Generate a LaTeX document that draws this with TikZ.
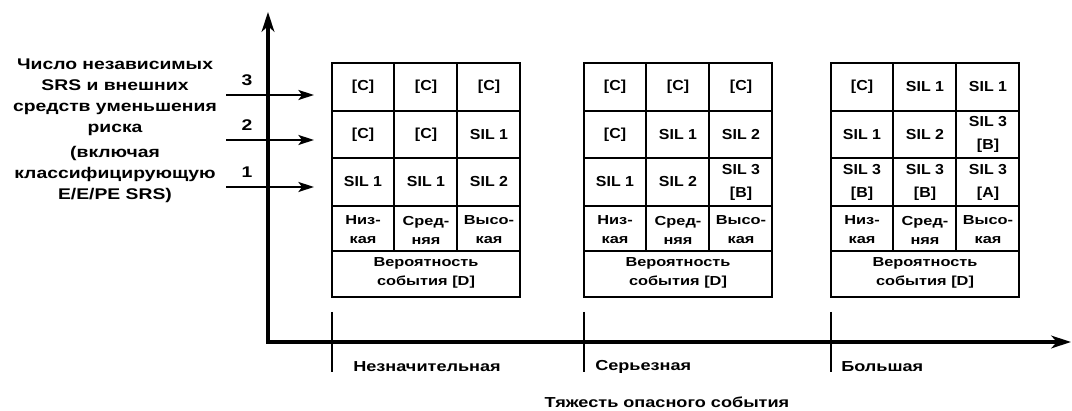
\documentclass[tikz,border=0pt]{standalone}
\usepackage{fontspec}
\setmainfont{Liberation Sans}[FakeStretch=1.25]
\newfontfamily\cellfont{Liberation Sans}[FakeStretch=1.1]
\usetikzlibrary{arrows.meta}

\newcommand\silgrid[2]{% #1 left edge, #2 name
  \draw[tabline, line width=1.6pt] (#1,63) rectangle (#1+188,297);
  \foreach \yy in {111,158,206,251}
    \draw[tabline] (#1,\yy) -- (#1+188,\yy);
  \foreach \xx in {62,125}
    \draw[tabline] (#1+\xx,63) -- (#1+\xx,251);
  \node[small] (#2-lo) at (#1+31,230) {Низ-\\кая};
  \node[small] (#2-mid) at (#1+94,230) {Сред-\\няя};
  \node[small] (#2-hi) at (#1+157,230) {Высо-\\кая};
  \node[small] (#2-prob) at (#1+94,273) {Вероятность\\события [D]};
}

\begin{document}
\begin{tikzpicture}[x=0.025cm, y=-0.025cm,
  axis/.style={line width=2.5pt, {Stealth[length=14pt,width=9pt,inset=4pt]}-{Stealth[length=14pt,width=9pt,inset=4pt]}},
  tick/.style={line width=2pt},
  tabline/.style={line width=1.2pt},
  pointer/.style={line width=2pt, -{Stealth[length=11pt,width=7pt,inset=2.5pt]}},
  cell/.style={font=\cellfont\bfseries\fontsize{10.3}{16.4}\selectfont, align=center, inner sep=0pt},
  small/.style={font=\bfseries\fontsize{9.3}{13.5}\selectfont, align=center, inner sep=0pt},
  lead/.style={font=\bfseries\fontsize{11}{14.9}\selectfont, align=center, inner sep=0pt},
  axlab/.style={font=\bfseries\fontsize{10.3}{12}\selectfont, inner sep=0pt}]
\useasboundingbox (0,0) rectangle (1072,411);

% axes
\coordinate (O) at (268,342);
\coordinate (ytop) at (268,12);
\coordinate (xend) at (1071,342);
\draw[axis] (ytop) -- (O) -- (xend);

\foreach \x/\d/\n/\txt in {332/21/1/Незначительная, 584/11/2/Серьезная, 831/10/3/Большая}{
  \coordinate (tick\n a) at (\x,312);
  \coordinate (tick\n b) at (\x,372);
  \draw[tick] (tick\n a) -- (tick\n b);
  \node[axlab, anchor=west] (sev\n) at (\x+\d,367) {\txt};
}
\node[axlab] (severity) at (667,402) {Тяжесть опасного события};

% number of SRS
\node[lead] (srs) at (115,131) {Число независимых\\SRS и внешних\\средств уменьшения\\риска\\[3pt](включая\\классифицирующую\\E/E/PE SRS)};
\foreach \n/\y in {3/95,2/140,1/187}{
  \coordinate (from\n) at (226,\y);
  \coordinate (to\n) at (314,\y);
  \draw[pointer] (from\n) -- (to\n);
  \node[lead] (num\n) at (247,\y-15) {\n};
}

% tables
\silgrid{332}{a}
\silgrid{584}{b}
\silgrid{831}{c}

\foreach \row/\col/\txt in {3/1/[C], 3/2/[C], 3/3/[C], 2/1/[C], 2/2/[C], 2/3/SIL 1,
                            1/1/SIL 1, 1/2/SIL 1, 1/3/SIL 2}
  \node[cell] (a-\row-\col) at (332+63*\col-32,229.5-47.5*\row) {\txt};
\foreach \row/\col/\txt in {3/1/[C], 3/2/[C], 3/3/[C], 2/1/[C], 2/2/SIL 1, 2/3/SIL 2,
                            1/1/SIL 1, 1/2/SIL 2, 1/3/SIL 3\\{}[B]}
  \node[cell] (b-\row-\col) at (584+63*\col-32,229.5-47.5*\row) {\txt};
\foreach \row/\col/\txt in {3/1/[C], 3/2/SIL 1, 3/3/SIL 1, 2/1/SIL 1, 2/2/SIL 2, 2/3/SIL 3\\{}[B],
                            1/1/SIL 3\\{}[B], 1/2/SIL 3\\{}[B], 1/3/SIL 3\\{}[A]}
  \node[cell] (c-\row-\col) at (831+63*\col-32,229.5-47.5*\row) {\txt};
\end{tikzpicture}
\end{document}
